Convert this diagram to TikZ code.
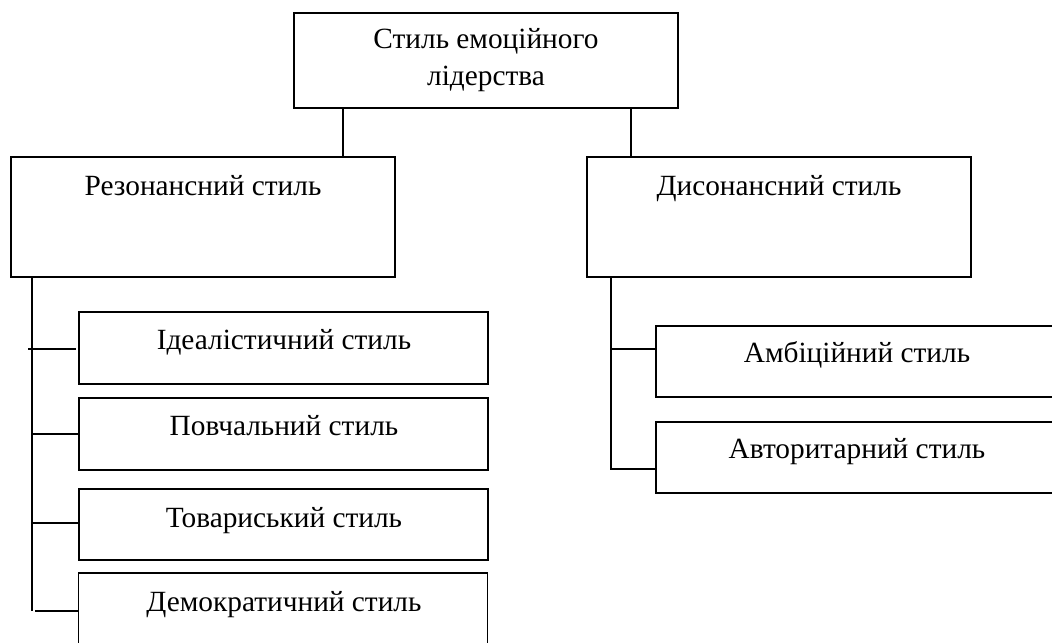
\documentclass[tikz,border=0pt]{standalone}
\usepackage{fontspec}
\setmainfont{Liberation Serif}
\begin{document}
\begin{tikzpicture}[x=0.75pt,y=-0.75pt,
  boxe/.style={draw,line width=0.9pt,rectangle,inner sep=0pt},
  lbl/.style={anchor=base,font=\fontsize{22}{26}\selectfont},
  conn/.style={line width=0.8pt}]
\useasboundingbox (0,0) rectangle (1052,642);
% top
\node[boxe,minimum width=384*0.75pt,minimum height=95*0.75pt,align=center,
  font=\fontsize{22}{27.75}\selectfont] (top) at (486,60.5) {Стиль емоційного\\лідерства};
% level 2
\node[boxe,minimum width=384*0.75pt,minimum height=120*0.75pt] (res) at (203,217) {};
\node[boxe,minimum width=384*0.75pt,minimum height=120*0.75pt] (dis) at (779,217) {};
\node[lbl] (restxt) at (203,195) {Резонансний стиль};
\node[lbl] (distxt) at (779,195) {Дисонансний стиль};
% left children
\node[boxe,minimum width=409*0.75pt,minimum height=72*0.75pt] (ide) at (283.5,348) {};
\node[boxe,minimum width=409*0.75pt,minimum height=72*0.75pt] (pov) at (283.5,434) {};
\node[boxe,minimum width=409*0.75pt,minimum height=71*0.75pt] (tov) at (283.5,524.5) {};
\node[boxe,minimum width=409*0.75pt,minimum height=78*0.75pt] (dem) at (283,612) {};
\node[lbl] (idetxt) at (284,349) {Ідеалістичний стиль};
\node[lbl] (povtxt) at (284,435) {Повчальний стиль};
\node[lbl] (tovtxt) at (284,527) {Товариський стиль};
\node[lbl] (demtxt) at (284,611) {Демократичний стиль};
% right children
\node[boxe,minimum width=430*0.75pt,minimum height=71*0.75pt] (amb) at (871,361.5) {};
\node[boxe,minimum width=430*0.75pt,minimum height=71*0.75pt] (avt) at (871,457.5) {};
\node[lbl] (ambtxt) at (857,362) {Амбіційний стиль};
\node[lbl] (avttxt) at (857,458) {Авторитарний стиль};
% connectors top
\draw[conn] (top.south -| 343,0) -- (res.north -| 343,0);
\draw[conn] (top.south -| 631,0) -- (dis.north -| 631,0);
% left tree
\coordinate (lv1) at (32,277);
\coordinate (lv2) at (32,611);
\coordinate (t1) at (28,349);
\draw[conn] (res.south -| lv1) -- (lv2);
\draw[conn] (t1) -- (76,349);
\draw[conn] (32,434) -- (pov.west |- 0,434);
\draw[conn] (32,523) -- (tov.west |- 0,523);
\draw[conn] (35,611) -- (dem.west |- 0,611);
% right tree
\draw[conn] (dis.south -| 611,0) -- (611,469) -- (avt.west |- 0,469);
\draw[conn] (611,349) -- (amb.west |- 0,349);
\end{tikzpicture}
\end{document}
